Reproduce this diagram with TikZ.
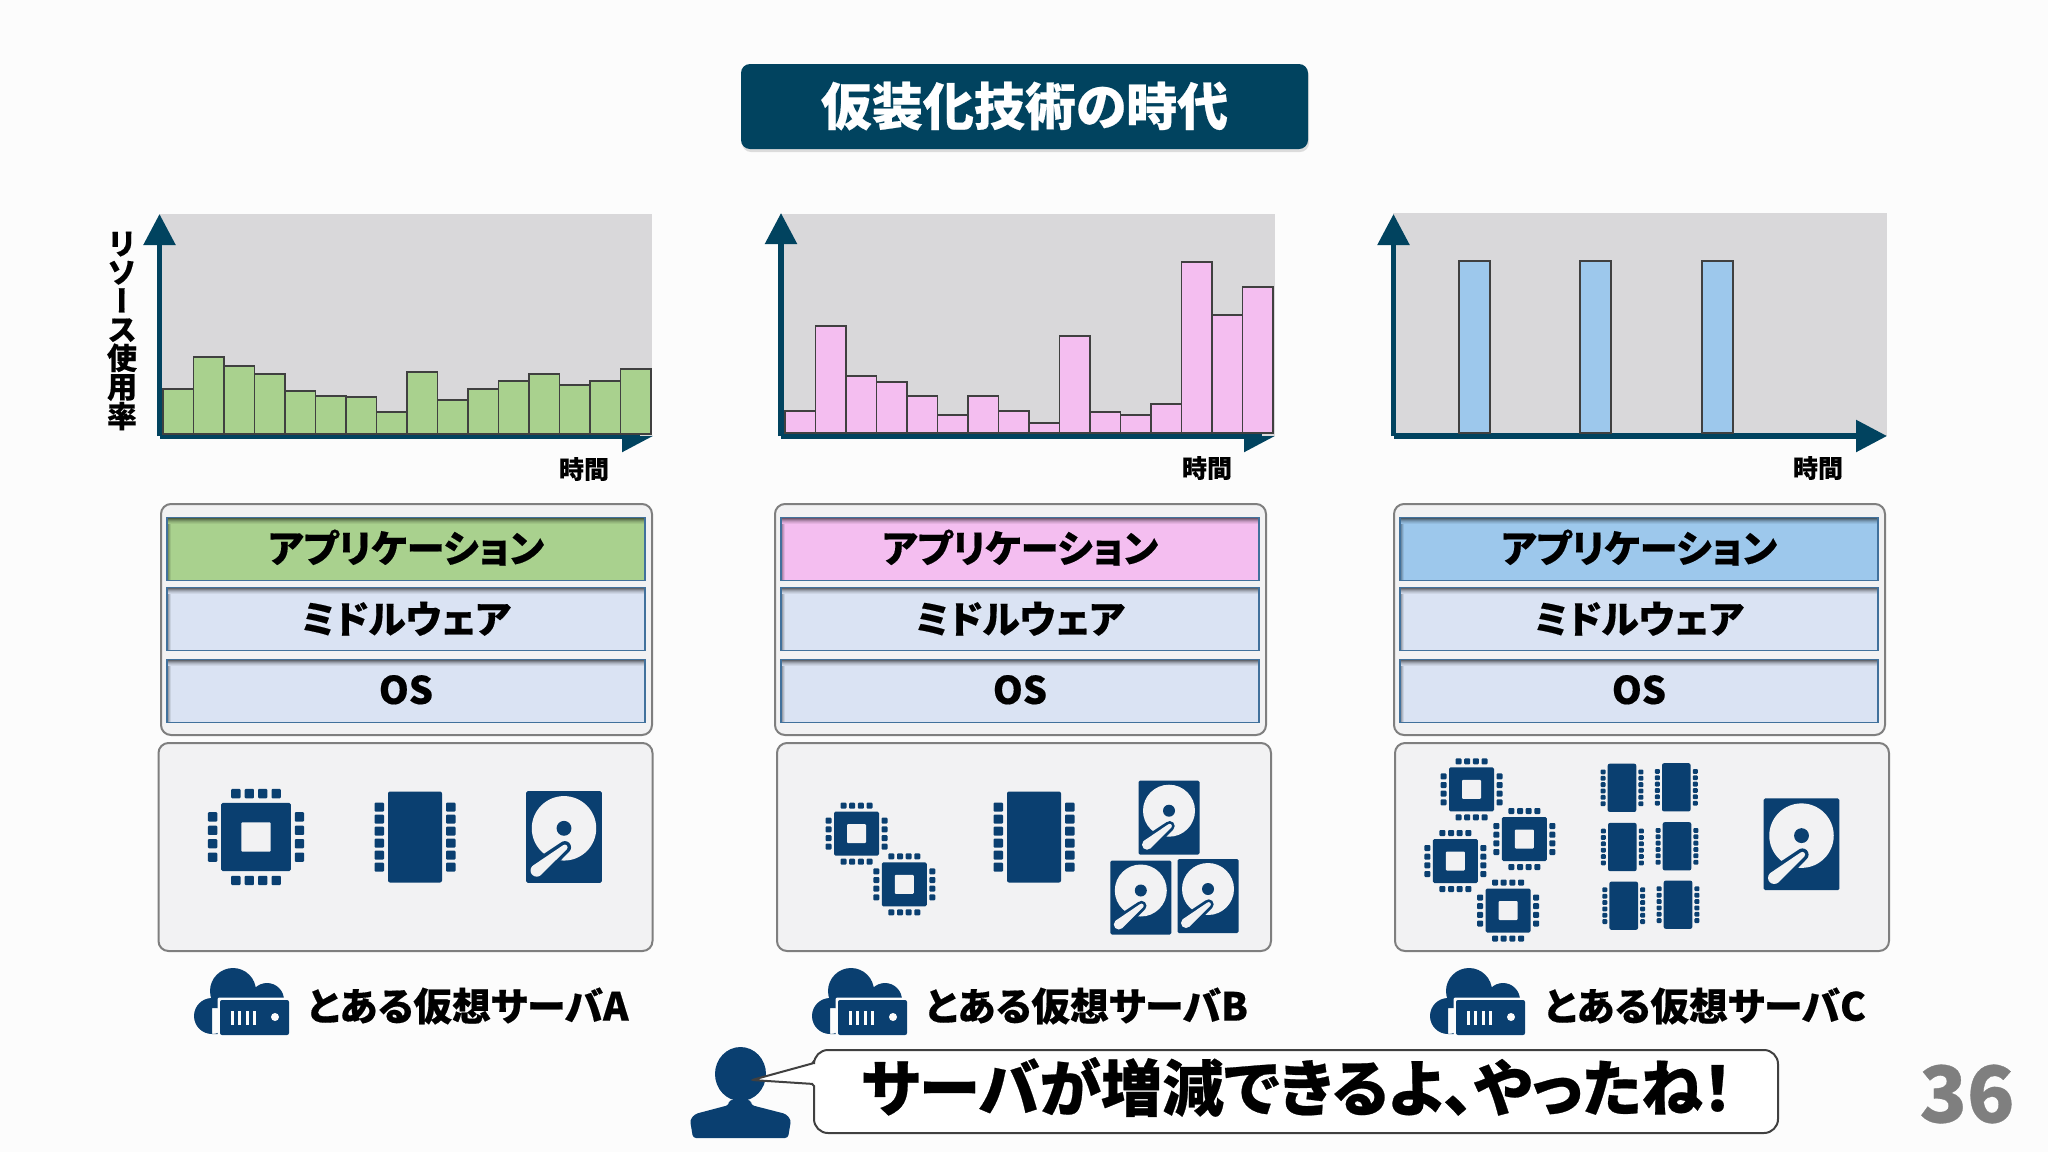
\documentclass[tikz,border=0pt]{standalone}
\usepackage{fontspec}
\setmainfont{Noto Sans CJK JP}[RawFeature={+palt},BoldFeatures={FakeBold=0.4}]
\newfontfamily\vertjp{Noto Sans CJK JP}[RawFeature={+vert},BoldFeatures={FakeBold=0.4}]
\usepackage{xcolor}
\usepackage{tikz}
\usetikzlibrary{arrows.meta}
\usetikzlibrary{shadows}

\definecolor{pagebg}{HTML}{FCFCFC}
\definecolor{titleblue}{HTML}{01435F}
\definecolor{iconblue}{HTML}{0A3F70}
\definecolor{panel}{HTML}{F2F2F3}
\definecolor{plotgray}{HTML}{D9D8DA}
\definecolor{edgegray}{HTML}{7F7F7F}
\definecolor{baredge}{HTML}{404040}
\definecolor{rowline}{HTML}{41719C}
\definecolor{appa}{HTML}{A9D18E}
\definecolor{appb}{HTML}{F4BEF0}
\definecolor{appc}{HTML}{9DC8EC}
\definecolor{midfill}{HTML}{DAE3F3}

\tikzset{
  axisline/.style={line width=5.5pt, draw=titleblue, -{Triangle[length=31pt,width=31pt]}},
  bar/.style={draw=baredge, line width=1.8pt},
  frame/.style={draw=edgegray, line width=2pt, fill=panel, rounded corners=10pt},
  rowbox/.style={draw=rowline, line width=1.5pt, fill=#1, minimum width=478pt, minimum height=63pt,
    inner sep=0pt, font=\fontsize{38}{38}\selectfont\bfseries,
    path picture={
      \foreach \d/\o in {1/.55,2/.42,3/.3,4/.2,5/.12,6/.06} {
        \fill[black, opacity=\o] ([yshift=-\d pt+1pt]path picture bounding box.north west) rectangle ([yshift=-\d pt]path picture bounding box.north east);
      }
      \foreach \d/\o in {1/.45,2/.3,3/.18,4/.08} {
        \fill[black, opacity=\o] ([xshift=\d pt-1pt]path picture bounding box.south west) rectangle ([xshift=\d pt,yshift=-6pt]path picture bounding box.north west);
      }
    }},
  pics/cpuicon/.style={code={
    \fill[iconblue,rounded corners=1.5pt] (-22.5,-22) rectangle (22.5,22);
    \fill[panel,rounded corners=1pt] (-9.5,-9.5) rectangle (9.5,9.5);
    \foreach \p in {-13,-4.3,4.3,13} {
      \fill[iconblue,rounded corners=1pt] (\p-3,-31) rectangle (\p+3,-25);
      \fill[iconblue,rounded corners=1pt] (\p-3,25) rectangle (\p+3,31);
      \fill[iconblue,rounded corners=1pt] (-31,\p-3) rectangle (-25,\p+3);
      \fill[iconblue,rounded corners=1pt] (25,\p-3) rectangle (31,\p+3);
    }
  }},
  pics/ramicon/.style={code={
    \fill[iconblue,rounded corners=2pt] (-27,-45.5) rectangle (27,45.5);
    \foreach \p in {-30,-18,-6,6,18,30} {
      \fill[iconblue,rounded corners=1pt] (-40.5,\p-4.5) rectangle (-31,\p+4.5);
      \fill[iconblue,rounded corners=1pt] (31,\p-4.5) rectangle (40.5,\p+4.5);
    }
  }},
  pics/hddicon/.style={code={
    \fill[iconblue,rounded corners=1.5pt] (-30.5,-37) rectangle (30.5,37);
    \fill[panel] (0,-7) circle (26);
    \fill[iconblue] (0,-7) circle (6);
    \fill[iconblue] (0.7,8.3) circle (5) (-16.9,33.2) -- (-27.1,20.8) -- (-2.5,4.45) -- (3.9,12.15) -- cycle;
    \fill[panel] (-22,27) circle (5) (0.7,8.3) circle (2.2) (-18.8,30.85) -- (-25.2,23.15) -- (-0.7,6.6) -- (2.1,10) -- cycle;
  }},
  pics/cloudicon/.style={code={
    \fill[iconblue] (38,23) circle (23) (72,32) circle (17) (17,48) circle (18) (17,40) rectangle (85,66);
    \fill[pagebg,rounded corners=2pt] (22.5,29.5) rectangle (96,69);
    \fill[iconblue,rounded corners=2pt] (25,32) rectangle (94,67);
    \foreach \p in {36,43,51,58} { \fill[pagebg] (\p,43) rectangle (\p+3,57); }
    \fill[pagebg] (80,49) circle (4);
  }}
}

\begin{document}
\begin{tikzpicture}[x=1pt,y=-1pt]
\useasboundingbox (0,0) rectangle (2048,1152);
\fill[pagebg] (0,0) rectangle (2048,1152);

\node[fill=titleblue, rounded corners=9pt, minimum width=567pt, minimum height=85pt, text=white,
  font=\fontsize{51}{51}\selectfont\bfseries, drop shadow={opacity=0.25,shadow xshift=1pt,shadow yshift=-3pt}] (title) at (1024.5,106.5) {\raisebox{6pt}{仮装化技術の時代}};

% charts
\coordinate (oa) at (159.5,436); \coordinate (ya) at (159.5,214); \coordinate (xa) at (653,436);
\coordinate (ob) at (781,436); \coordinate (yb) at (781,213); \coordinate (xb) at (1275,436);
\coordinate (oc) at (1393.5,436); \coordinate (yc) at (1393.5,214); \coordinate (xc) at (1887,436);

\draw[axisline] (oa) -- (xa);
\fill[plotgray] (159,214) rectangle (652,436);
\draw[line width=5.5pt, draw=titleblue] (oa) -- (640,436);
\draw[axisline] (oa) -- (ya);
\foreach \h [count=\i from 0] in {45,77,68,60,43,38,37,22,62,34,45,53,60,49,53,65} {
  \draw[bar, fill=appa] (163+30.5*\i,434) rectangle ++(30.5,-\h);
}

\draw[axisline] (ob) -- (xb);
\fill[plotgray] (781,214) rectangle (1275,436);
\draw[line width=5.5pt, draw=titleblue] (ob) -- (1262,436);
\draw[axisline] (ob) -- (yb);
\foreach \h [count=\i from 0] in {22,107,57,51,37,18,37,22,10,97,21,18,29,171,118,146} {
  \draw[bar, fill=appb] (785+30.5*\i,433) rectangle ++(30.5,-\h);
}

\fill[plotgray] (1393,213) rectangle (1887,436);
\draw[axisline] (oc) -- (xc);
\draw[axisline] (oc) -- (yc);
\foreach \x in {1459,1580,1702} {
  \draw[bar, fill=appc] (\x,433) rectangle ++(31,-172);
}

\node[font=\fontsize{25}{25}\selectfont\bfseries] (timea) at (584,469) {時間};
\node[font=\fontsize{25}{25}\selectfont\bfseries] (timeb) at (1207,468) {時間};
\node[font=\fontsize{25}{25}\selectfont\bfseries] (timec) at (1818,468) {時間};
\node[align=center, inner sep=0pt, font=\vertjp\fontsize{30}{28.6}\selectfont\bfseries] (usage) at (122,331) {リ\\ソ\\ー\\ス\\使\\用\\率};

% middleware stacks
\foreach \cx/\col/\nm in {406/appa/a,1020/appb/b,1639/appc/c} {
  \draw[frame] (\cx-245,504) rectangle (\cx+246,735);
  \node[rowbox=\col] (app\nm) at (\cx,549) {\raisebox{6pt}{アプリケーション}};
  \node[rowbox=midfill] (mid\nm) at (\cx,619) {\raisebox{3pt}{ミドルウェア}};
  \node[rowbox=midfill] (os\nm) at (\cx,691) {\raisebox{3pt}{OS}};
}

% hardware
\foreach \cx in {405.5,1024,1642} {
  \draw[frame] (\cx-247,743) rectangle (\cx+247,951);
}
\pic[scale=1.55] at (256,837) {cpuicon};
\pic at (415,837) {ramicon};
\pic[scale=1.24] at (564,837) {hddicon};

\pic at (856.5,833.7) {cpuicon};
\pic at (904.3,884.3) {cpuicon};
\pic at (1034,837) {ramicon};
\pic at (1169,817.7) {hddicon};
\pic at (1140.8,897.5) {hddicon};
\pic at (1208,896) {hddicon};

\pic at (1471.5,789.3) {cpuicon};
\pic at (1524.3,839) {cpuicon};
\pic at (1455.3,861) {cpuicon};
\pic at (1508,910.5) {cpuicon};
\foreach \rx/\ry in {1622/787.8,1676.3/787.3,1622.3/847,1677/846.3,1623.7/905.7,1678/904.7} {
  \pic[scale=0.53] at (\rx,\ry) {ramicon};
}
\pic[scale=1.24] at (1801.5,844.3) {hddicon};

% server labels
\pic at (195,968) {cloudicon};
\pic at (813,968) {cloudicon};
\pic at (1431,968) {cloudicon};
\node[anchor=west, inner sep=0pt, font=\fontsize{38.7}{38.7}\selectfont\bfseries] (srva) at (307,1006) {とある仮想サーバA};
\node[anchor=west, inner sep=0pt, font=\fontsize{38.7}{38.7}\selectfont\bfseries] (srvb) at (925,1006) {とある仮想サーバB};
\node[anchor=west, inner sep=0pt, font=\fontsize{38.7}{38.7}\selectfont\bfseries] (srvc) at (1544,1006) {とある仮想サーバC};

% speaker and callout
\fill[iconblue] (740.5,1074) ellipse (25.5 and 27);
\fill[iconblue, rounded corners=3pt] (729,1100) -- (729,1105) -- (695,1114) -- (690,1120) -- (693,1138) -- (788,1138) -- (791,1120) -- (786,1114) -- (751,1105) -- (751,1100) -- cycle;
\draw[draw=baredge, line width=2pt, fill=white, rounded corners=2pt] (752,1080) -- (814,1063) -- (814,1062) [rounded corners=14pt] -- (814,1050) -- (1778,1050) -- (1778,1133) -- (814,1133) [rounded corners=2pt] -- (814,1084) -- cycle;
\node[font=\fontsize{61.5}{61.5}\selectfont\bfseries] (callout) at (1297,1087) {サーバが増減できるよ、やったね！};

\node[text=edgegray, font=\fontsize{78}{78}\selectfont\bfseries] (pageno) at (1967,1094) {36};
\end{tikzpicture}
\end{document}
